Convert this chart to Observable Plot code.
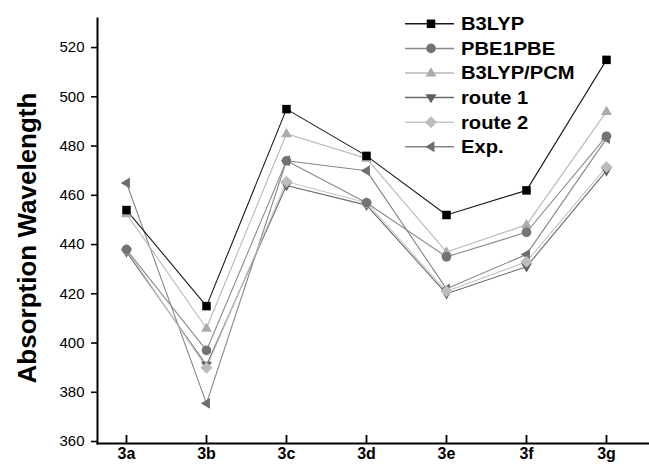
<!DOCTYPE html>
<html>
<head>
<meta charset="utf-8">
<script src="https://cdn.jsdelivr.net/npm/d3@7"></script>
<script src="https://cdn.jsdelivr.net/npm/@observablehq/plot@0.6"></script>
<style>
  html, body { margin: 0; padding: 0; background: #fff; }
  #chart { width: 649px; height: 464px; }
</style>
</head>
<body>
<div id="chart"></div>
<script>
// ---- data ----
const categories = ["3a", "3b", "3c", "3d", "3e", "3f", "3g"];
const seriesNames = ["B3LYP", "PBE1PBE", "B3LYP/PCM", "route 1", "route 2", "Exp."];
const b3lyp    = [454, 415, 495, 476, 452, 462, 515];
const pbe1pbe  = [438, 397, 474, 457, 435, 445, 484];
const b3lypPcm = [452.5, 406, 485, 475, 437, 448, 494];
const route1   = [437, 391, 464, 456, 420, 431, 470];
const route2   = [438, 390, 465.5, 457, 421, 433, 471.5];
const expData  = [465, 375.5, 474, 470, 422, 436, 483];
const yTicks   = [360, 380, 400, 420, 440, 460, 480, 500, 520];
const yLabel   = "Absorption Wavelength";

// ---- custom symbols ----
const downTriangle = {
  draw(ctx, size) {
    const s = Math.sqrt(size / Math.PI) * 1.15;
    ctx.moveTo(0, s);
    ctx.lineTo(-s * 0.95, -s * 0.6);
    ctx.lineTo(s * 0.95, -s * 0.6);
    ctx.closePath();
  }
};
const leftTriangle = {
  draw(ctx, size) {
    const s = Math.sqrt(size / Math.PI) * 1.15;
    ctx.moveTo(-s, 0);
    ctx.lineTo(s * 0.6, -s * 0.95);
    ctx.lineTo(s * 0.6, s * 0.95);
    ctx.closePath();
  }
};
const upTriangle = {
  draw(ctx, size) {
    const s = Math.sqrt(size / Math.PI) * 1.15;
    ctx.moveTo(0, -s);
    ctx.lineTo(-s * 0.95, s * 0.6);
    ctx.lineTo(s * 0.95, s * 0.6);
    ctx.closePath();
  }
};
const diamond = {
  draw(ctx, size) {
    const s = Math.sqrt(size / Math.PI) * 1.2;
    ctx.moveTo(0, -s);
    ctx.lineTo(s, 0);
    ctx.lineTo(0, s);
    ctx.lineTo(-s, 0);
    ctx.closePath();
  }
};

const styles = {
  "B3LYP":     {values: b3lyp,    symbol: d3.symbolSquare,  fill: "#000000", line: "#1a1a1a", r: 4.8},
  "PBE1PBE":   {values: pbe1pbe,  symbol: d3.symbolCircle,  fill: "#737373", line: "#8a8a8a", r: 4.8},
  "B3LYP/PCM": {values: b3lypPcm, symbol: upTriangle,       fill: "#ababab", line: "#b8b8b8", r: 5},
  "route 1":   {values: route1,   symbol: downTriangle,     fill: "#5e5e5e", line: "#6a6a6a", r: 5},
  "route 2":   {values: route2,   symbol: diamond,          fill: "#bdbdbd", line: "#c4c4c4", r: 5},
  "Exp.":      {values: expData,  symbol: leftTriangle,     fill: "#6e6e6e", line: "#858585", r: 5}
};
const drawOrder = ["Exp.", "route 1", "route 2", "B3LYP/PCM", "PBE1PBE", "B3LYP"];

const font = "'Liberation Sans', Arial, Helvetica, sans-serif";

const marks = [];
for (const name of drawOrder) {
  const st = styles[name];
  const rows = categories.map((c, i) => ({cat: c, v: st.values[i]}));
  marks.push(Plot.line(rows, {x: "cat", y: "v", stroke: st.line, strokeWidth: 1.1}));
}
for (const name of drawOrder) {
  const st = styles[name];
  const rows = categories.map((c, i) => ({cat: c, v: st.values[i]}));
  marks.push(Plot.dot(rows, {x: "cat", y: "v", symbol: st.symbol, fill: st.fill, stroke: "none", r: st.r}));
}

const H = 464, MT = 18, MB = 21;
const chart = Plot.plot({
  width: 649,
  height: H,
  marginTop: MT,
  marginBottom: MB,
  marginLeft: 97,
  marginRight: 0,
  style: {fontFamily: font, background: "#fff", color: "#000"},
  x: {type: "point", domain: categories, range: [123, 608], padding: 0},
  y: {domain: [359.2, 531.8]},
  marks: [
    ...marks,
    Plot.axisY({ticks: yTicks, tickSize: 6, tickPadding: 7, fontSize: 15, label: null, strokeWidth: 1.6}),
    Plot.axisX({tickSize: 0, tickPadding: 4, fontSize: 16, fontWeight: "bold", label: null}),
    // inward x-axis ticks, 8px tall
    Plot.tickX(categories, {x: d => d, insetTop: H - MT - MB - 8, stroke: "#000", strokeWidth: 1.8}),
    Plot.frame({anchor: "left", strokeWidth: 2}),
    Plot.frame({anchor: "bottom", strokeWidth: 2}),
    Plot.text([yLabel], {text: d => d, frameAnchor: "left", textAnchor: "middle", rotate: -90, dx: -70, dy: 7, fontSize: 26, fontWeight: "bold"})
  ]
});

document.getElementById("chart").appendChild(chart);

// ---- legend ----
const svg = d3.select(chart.tagName.toLowerCase() === "svg" ? chart : chart.querySelector("svg"));
const lg = svg.append("g").attr("font-family", font).attr("text-anchor", "start");
seriesNames.forEach((name, i) => {
  const st = styles[name];
  const y = 23.8 + i * 24.6;
  lg.append("line").attr("x1", 405).attr("x2", 454).attr("y1", y).attr("y2", y)
    .attr("stroke", st.line).attr("stroke-width", 1.5);
  lg.append("path").attr("transform", `translate(431,${y})`)
    .attr("d", d3.symbol(st.symbol, st.r * st.r * Math.PI)())
    .attr("fill", st.fill);
  lg.append("text").attr("transform", `translate(461,${y}) scale(1.12,1)`).attr("dy", "0.36em")
    .attr("text-anchor", "start")
    .attr("font-size", 18).attr("font-weight", "bold").attr("fill", "#000").text(name);
});
</script>
</body>
</html>
